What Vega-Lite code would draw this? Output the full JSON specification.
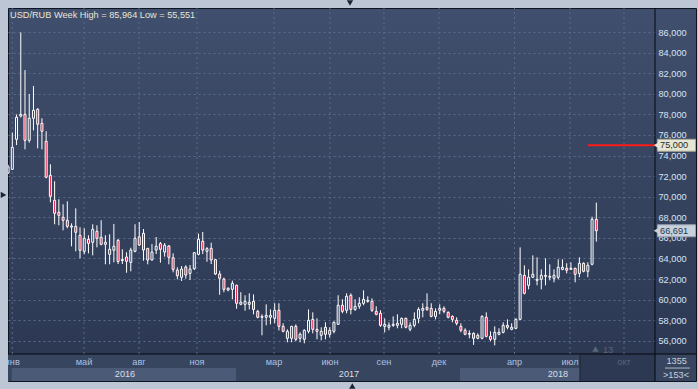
{
"$schema": "https://vega.github.io/schema/vega-lite/v6.json",
"width": 688, "height": 373,
"autosize": {"type": "none"},
"padding": {"left": 8, "top": 8, "right": 2, "bottom": 8},
"background": "#bcc6d5",
"config": {"view": {"fill": {"gradient": "linear", "x1": 0, "y1": 0, "x2": 0, "y2": 1, "stops": [{"offset": 0, "color": "#404f6d"}, {"offset": 1, "color": "#2b3751"}]}, "stroke": "#0e1522", "strokeWidth": 1}, "font": "Liberation Sans"},
"resolve": {"axis": {"x": "independent", "y": "independent"}},
"datasets": {
"candles": [
{"d":"2015-12-28","o":72.3,"h":73.1,"l":72.2,"c":72.9},
{"d":"2016-01-04","o":72.66,"h":76.22,"l":72.6,"c":74.8},
{"d":"2016-01-11","o":75.58,"h":78.0,"l":75.02,"c":77.72},
{"d":"2016-01-18","o":77.84,"h":85.964,"l":77.7,"c":78.0},
{"d":"2016-01-25","o":78.0,"h":82.3,"l":74.6,"c":75.48},
{"d":"2016-02-01","o":75.48,"h":79.98,"l":75.25,"c":77.62},
{"d":"2016-02-08","o":77.62,"h":80.76,"l":76.45,"c":78.4},
{"d":"2016-02-15","o":78.5,"h":78.6,"l":74.7,"c":77.04},
{"d":"2016-02-22","o":77.13,"h":77.62,"l":74.6,"c":76.36},
{"d":"2016-02-29","o":75.38,"h":76.36,"l":71.79,"c":71.89},
{"d":"2016-03-07","o":72.08,"h":73.15,"l":69.46,"c":70.04},
{"d":"2016-03-14","o":69.65,"h":71.5,"l":67.32,"c":68.39},
{"d":"2016-03-21","o":68.49,"h":69.75,"l":67.22,"c":68.19},
{"d":"2016-03-28","o":68.0,"h":69.26,"l":66.73,"c":67.71},
{"d":"2016-04-04","o":67.71,"h":69.55,"l":66.93,"c":67.12},
{"d":"2016-04-11","o":67.05,"h":67.41,"l":65.18,"c":67.15},
{"d":"2016-04-18","o":67.12,"h":68.87,"l":64.69,"c":66.54},
{"d":"2016-04-25","o":66.25,"h":67.03,"l":64.01,"c":64.79},
{"d":"2016-05-02","o":64.69,"h":66.93,"l":64.4,"c":65.96},
{"d":"2016-05-09","o":65.86,"h":66.25,"l":64.5,"c":65.47},
{"d":"2016-05-16","o":65.57,"h":67.32,"l":64.3,"c":66.83},
{"d":"2016-05-23","o":66.64,"h":67.22,"l":65.08,"c":65.96},
{"d":"2016-05-30","o":66.05,"h":67.71,"l":65.28,"c":65.37},
{"d":"2016-06-06","o":65.37,"h":66.25,"l":63.43,"c":65.57},
{"d":"2016-06-13","o":64.4,"h":66.35,"l":63.43,"c":64.89},
{"d":"2016-06-20","o":64.79,"h":67.35,"l":63.62,"c":65.18},
{"d":"2016-06-27","o":65.76,"h":65.9,"l":63.46,"c":63.7},
{"d":"2016-07-04","o":63.8,"h":64.89,"l":63.46,"c":63.9},
{"d":"2016-07-11","o":64.14,"h":64.6,"l":62.61,"c":63.72},
{"d":"2016-07-18","o":63.62,"h":65.04,"l":62.75,"c":64.82},
{"d":"2016-07-25","o":64.69,"h":67.32,"l":64.6,"c":65.96},
{"d":"2016-08-01","o":66.1,"h":67.54,"l":65.2,"c":65.3},
{"d":"2016-08-08","o":66.44,"h":66.86,"l":63.78,"c":64.82},
{"d":"2016-08-15","o":64.98,"h":65.0,"l":63.43,"c":63.85},
{"d":"2016-08-22","o":63.85,"h":65.4,"l":63.8,"c":64.62},
{"d":"2016-08-29","o":64.82,"h":66.08,"l":64.43,"c":65.18},
{"d":"2016-09-05","o":65.44,"h":65.6,"l":63.59,"c":64.89},
{"d":"2016-09-12","o":64.62,"h":65.5,"l":64.17,"c":65.28},
{"d":"2016-09-19","o":65.21,"h":65.3,"l":63.43,"c":64.11},
{"d":"2016-09-26","o":64.07,"h":64.5,"l":62.65,"c":62.94},
{"d":"2016-10-03","o":62.87,"h":63.14,"l":61.97,"c":62.32},
{"d":"2016-10-10","o":62.17,"h":63.26,"l":61.81,"c":62.97},
{"d":"2016-10-17","o":63.17,"h":63.33,"l":62.03,"c":62.39},
{"d":"2016-10-24","o":62.55,"h":63.36,"l":61.9,"c":62.97},
{"d":"2016-10-31","o":63.0,"h":64.6,"l":62.87,"c":64.56},
{"d":"2016-11-07","o":64.4,"h":66.41,"l":64.3,"c":65.86},
{"d":"2016-11-14","o":65.67,"h":66.57,"l":64.43,"c":64.82},
{"d":"2016-11-21","o":64.69,"h":65.1,"l":63.68,"c":64.95},
{"d":"2016-11-28","o":64.98,"h":65.53,"l":63.46,"c":63.85},
{"d":"2016-12-05","o":63.88,"h":63.95,"l":62.39,"c":62.49},
{"d":"2016-12-12","o":62.49,"h":62.8,"l":60.47,"c":62.07},
{"d":"2016-12-19","o":62.0,"h":62.13,"l":60.71,"c":61.0},
{"d":"2016-12-26","o":60.93,"h":61.2,"l":60.8,"c":61.1},
{"d":"2017-01-02","o":61.0,"h":61.84,"l":60.03,"c":61.58},
{"d":"2017-01-09","o":61.39,"h":61.45,"l":59.11,"c":59.64},
{"d":"2017-01-16","o":59.55,"h":60.72,"l":59.45,"c":59.75},
{"d":"2017-01-23","o":59.54,"h":60.42,"l":58.92,"c":59.83},
{"d":"2017-01-30","o":59.54,"h":60.61,"l":59.05,"c":59.74},
{"d":"2017-02-06","o":59.83,"h":60.51,"l":58.57,"c":59.05},
{"d":"2017-02-13","o":58.86,"h":59.0,"l":58.18,"c":58.28},
{"d":"2017-02-20","o":58.28,"h":58.57,"l":56.53,"c":58.37},
{"d":"2017-02-27","o":58.28,"h":59.54,"l":57.5,"c":58.47},
{"d":"2017-03-06","o":58.28,"h":59.05,"l":57.6,"c":58.47},
{"d":"2017-03-13","o":58.18,"h":59.64,"l":57.7,"c":58.96},
{"d":"2017-03-20","o":58.96,"h":59.64,"l":57.0,"c":57.4},
{"d":"2017-03-27","o":57.4,"h":57.7,"l":56.82,"c":56.92},
{"d":"2017-04-03","o":56.24,"h":57.11,"l":55.85,"c":56.92},
{"d":"2017-04-10","o":56.24,"h":57.45,"l":55.85,"c":57.4},
{"d":"2017-04-17","o":57.4,"h":57.6,"l":55.95,"c":56.14},
{"d":"2017-04-24","o":56.24,"h":56.82,"l":55.85,"c":56.63},
{"d":"2017-05-01","o":56.14,"h":57.11,"l":55.75,"c":57.02},
{"d":"2017-05-08","o":56.92,"h":59.05,"l":56.72,"c":57.99},
{"d":"2017-05-15","o":58.08,"h":58.76,"l":56.72,"c":57.11},
{"d":"2017-05-22","o":57.11,"h":58.18,"l":56.14,"c":56.92},
{"d":"2017-05-29","o":56.53,"h":57.31,"l":56.04,"c":56.92},
{"d":"2017-06-05","o":57.31,"h":57.79,"l":56.14,"c":56.63},
{"d":"2017-06-12","o":56.63,"h":57.31,"l":56.33,"c":57.02},
{"d":"2017-06-19","o":56.92,"h":57.89,"l":56.72,"c":57.79},
{"d":"2017-06-26","o":57.6,"h":60.42,"l":57.55,"c":59.45},
{"d":"2017-07-03","o":59.45,"h":60.03,"l":58.67,"c":58.86},
{"d":"2017-07-10","o":58.96,"h":60.61,"l":58.67,"c":60.32},
{"d":"2017-07-17","o":60.42,"h":60.61,"l":58.57,"c":59.05},
{"d":"2017-07-24","o":59.05,"h":60.03,"l":58.9,"c":59.35},
{"d":"2017-07-31","o":59.35,"h":60.22,"l":59.1,"c":59.64},
{"d":"2017-08-07","o":59.64,"h":60.9,"l":59.45,"c":60.03},
{"d":"2017-08-14","o":59.83,"h":60.32,"l":59.7,"c":59.93},
{"d":"2017-08-21","o":59.83,"h":60.12,"l":58.8,"c":58.96},
{"d":"2017-08-28","o":58.86,"h":59.35,"l":58.47,"c":58.57},
{"d":"2017-09-04","o":58.67,"h":58.96,"l":57.35,"c":57.5},
{"d":"2017-09-11","o":57.4,"h":58.18,"l":56.82,"c":57.6},
{"d":"2017-09-18","o":57.31,"h":57.79,"l":57.02,"c":57.5},
{"d":"2017-09-25","o":57.5,"h":58.37,"l":57.35,"c":57.6},
{"d":"2017-10-02","o":57.5,"h":58.57,"l":57.21,"c":57.7},
{"d":"2017-10-09","o":57.6,"h":58.25,"l":57.21,"c":58.18},
{"d":"2017-10-16","o":58.18,"h":58.25,"l":57.21,"c":57.31},
{"d":"2017-10-23","o":57.11,"h":57.79,"l":56.92,"c":57.5},
{"d":"2017-10-30","o":57.5,"h":58.76,"l":57.31,"c":58.08},
{"d":"2017-11-06","o":58.18,"h":59.25,"l":57.7,"c":59.05},
{"d":"2017-11-13","o":58.96,"h":59.64,"l":58.28,"c":59.15},
{"d":"2017-11-20","o":59.25,"h":60.61,"l":58.9,"c":59.05},
{"d":"2017-11-27","o":59.15,"h":59.64,"l":58.28,"c":58.37},
{"d":"2017-12-04","o":58.37,"h":59.15,"l":58.08,"c":58.86},
{"d":"2017-12-11","o":58.96,"h":59.54,"l":58.57,"c":59.15},
{"d":"2017-12-18","o":59.15,"h":59.35,"l":58.67,"c":58.86},
{"d":"2017-12-25","o":58.76,"h":58.86,"l":58.18,"c":58.28},
{"d":"2018-01-01","o":58.37,"h":58.47,"l":57.79,"c":58.08},
{"d":"2018-01-08","o":57.99,"h":58.28,"l":57.5,"c":57.7},
{"d":"2018-01-15","o":57.4,"h":57.7,"l":56.82,"c":57.02},
{"d":"2018-01-22","o":57.02,"h":57.21,"l":56.53,"c":56.63},
{"d":"2018-01-29","o":56.63,"h":57.02,"l":56.24,"c":56.72},
{"d":"2018-02-05","o":56.72,"h":56.82,"l":55.6,"c":56.24},
{"d":"2018-02-12","o":56.24,"h":56.72,"l":56.14,"c":56.53},
{"d":"2018-02-19","o":56.24,"h":58.47,"l":56.14,"c":58.37},
{"d":"2018-02-26","o":58.28,"h":58.76,"l":56.33,"c":56.43},
{"d":"2018-03-05","o":56.43,"h":56.92,"l":55.95,"c":56.14},
{"d":"2018-03-12","o":56.14,"h":57.4,"l":55.551,"c":56.82},
{"d":"2018-03-19","o":56.63,"h":57.21,"l":56.53,"c":56.82},
{"d":"2018-03-26","o":56.82,"h":57.79,"l":56.72,"c":57.5},
{"d":"2018-04-02","o":57.5,"h":58.08,"l":57.11,"c":57.31},
{"d":"2018-04-09","o":57.11,"h":57.7,"l":57.02,"c":57.31},
{"d":"2018-04-16","o":57.21,"h":58.18,"l":57.11,"c":58.08},
{"d":"2018-04-23","o":58.08,"h":65.08,"l":58.0,"c":62.46},
{"d":"2018-04-30","o":62.36,"h":63.33,"l":60.5,"c":60.61},
{"d":"2018-05-07","o":61.39,"h":62.94,"l":61.0,"c":62.17},
{"d":"2018-05-14","o":62.17,"h":64.3,"l":62.1,"c":62.46},
{"d":"2018-05-21","o":61.87,"h":64.11,"l":61.39,"c":61.97},
{"d":"2018-05-28","o":61.97,"h":62.94,"l":61.0,"c":62.36},
{"d":"2018-06-04","o":62.26,"h":64.01,"l":61.39,"c":62.36},
{"d":"2018-06-11","o":62.17,"h":63.43,"l":61.87,"c":62.26},
{"d":"2018-06-18","o":62.07,"h":62.94,"l":61.68,"c":62.36},
{"d":"2018-06-25","o":62.17,"h":63.92,"l":61.97,"c":63.14},
{"d":"2018-07-02","o":62.94,"h":63.92,"l":62.85,"c":63.14},
{"d":"2018-07-09","o":63.04,"h":63.53,"l":62.55,"c":62.85},
{"d":"2018-07-16","o":62.94,"h":63.62,"l":62.9,"c":63.04},
{"d":"2018-07-23","o":63.04,"h":63.1,"l":61.68,"c":62.46},
{"d":"2018-07-30","o":62.55,"h":64.11,"l":62.17,"c":63.53},
{"d":"2018-08-06","o":63.53,"h":63.62,"l":62.65,"c":62.75},
{"d":"2018-08-13","o":62.75,"h":63.62,"l":62.17,"c":63.33},
{"d":"2018-08-20","o":63.43,"h":68.06,"l":63.33,"c":67.8},
{"d":"2018-08-27","o":67.8,"h":69.42,"l":65.63,"c":66.691}
],
"months": [
{"d":"2016-01-04T00:00:00Z","m":"янв"},
{"d":"2016-05-01T14:00:00Z","m":"май"},
{"d":"2016-07-31T14:00:00Z","m":"авг"},
{"d":"2016-11-04T12:00:00Z","m":"ноя"},
{"d":"2017-03-11T22:00:00Z","m":"мар"},
{"d":"2017-06-12T12:00:00Z","m":"июн"},
{"d":"2017-09-09T19:00:00Z","m":"сен"},
{"d":"2017-12-09T19:00:00Z","m":"дек"},
{"d":"2018-04-13T17:00:00Z","m":"апр"},
{"d":"2018-07-14T12:00:00Z","m":"июл"},
{"d":"2018-10-11T19:00:00Z","m":"окт"}
],
"years": [
{"d":"2016-07-08T10:00:00Z","y":"2016"},
{"d":"2017-07-13T22:00:00Z","y":"2017"},
{"d":"2018-06-24T14:00:00Z","y":"2018"}
],
"panels": [
{"a":"2015-12-27T21:12:00Z","b":"2019-02-07T22:00:00Z","lo":52.09,"hi":54.713,"k":"row"},
{"a":"2016-01-03T00:00:00Z","b":"2017-01-08T00:00:00Z","lo":52.09,"hi":53.35,"k":"band"},
{"a":"2018-01-13T12:00:00Z","b":"2018-12-02T02:10:00Z","lo":52.09,"hi":53.35,"k":"band"},
{"a":"2018-07-31T00:00:00Z","b":"2018-12-02T02:10:00Z","lo":52.09,"hi":54.713,"k":"future"}
],
"lines": [
{"a":"2015-12-27T21:12:00Z","b":"2019-02-07T22:00:00Z","lo":54.713,"hi":54.713,"k":"edge"},
{"a":"2018-12-02T02:10:00Z","b":"2018-12-02T02:10:00Z","lo":52.09,"hi":88.338,"k":"edge"},
{"a":"2018-07-31T00:00:00Z","b":"2018-07-31T00:00:00Z","lo":52.09,"hi":54.713,"k":"divider"},
{"a":"2018-12-18T14:00:00Z","b":"2019-01-29T00:00:00Z","lo":53.35,"hi":53.35,"k":"underline"},
{"a":"2018-08-13T07:00:00Z","b":"2018-12-02T02:10:00Z","lo":75,"hi":75,"k":"level"}
],
"tagboxes": [
{"a":"2018-12-06T05:00:00Z","b":"2019-02-07T02:00:00Z","lo":74.42,"hi":75.58,"k":"level"},
{"a":"2018-12-06T05:00:00Z","b":"2019-02-07T02:00:00Z","lo":66.11,"hi":67.27,"k":"last"}
],
"tags": [
{"a":"2018-12-10T10:00:00Z","v":75.0,"t":"75,000","k":"level"},
{"a":"2018-12-10T10:00:00Z","v":66.691,"t":"66,691","k":"last"}
],
"notes": [
{"a":"2015-12-31T05:00:00Z","v":87.61,"t":"USD/RUB Week High = 85,964 Low = 55,551","k":"title"},
{"a":"2018-09-07T02:00:00Z","v":55.15,"t":"13","k":"count"},
{"a":"2018-12-21T02:00:00Z","v":53.99,"t":"1355","k":"info"},
{"a":"2018-12-15T07:00:00Z","v":52.72,"t":">153<","k":"info"}
],
"arrows": [
{"a":"2018-12-04T14:00:00Z","v":75.0,"s":"triangle-left","k":"level"},
{"a":"2018-12-04T14:00:00Z","v":66.691,"s":"triangle-left","k":"last"},
{"a":"2018-08-25T17:00:00Z","v":55.2,"s":"triangle-up","k":"count"},
{"a":"2017-07-15T14:00:00Z","v":88.82,"s":"triangle-down","k":"frame"},
{"a":"2017-07-19T10:00:00Z","v":51.6,"s":"triangle-up","k":"frame"},
{"a":"2015-12-20T11:00:00Z","v":70.17,"s":"triangle-right","k":"frame"}
]
},
"layer": [
{"data":{"name":"panels","format":{"parse":{"a":"date","b":"date"}}},
 "mark":{"type":"rect"},
 "encoding":{
  "x":{"field":"a","type":"temporal","axis":null,
       "scale":{"type":"utc","nice":false,"padding":0,"range":[0,647],"domain":[1451250777600,1543716600000]}},
  "x2":{"field":"b"},
  "y":{"field":"lo","type":"quantitative","axis":null,"scale":{"zero":false,"nice":false,"padding":0,"domain":[52.09,88.338]}},
  "y2":{"field":"hi"},
  "fill":{"field":"k","type":"nominal","legend":null,"scale":{"domain":["row","band","future"],"range":["#38455e","#4b5a76","#2d3952"]}}}},
{"data":{"name":"lines","format":{"parse":{"a":"date","b":"date"}}},
 "mark":{"type":"rule"},
 "encoding":{
  "x":{"field":"a","type":"temporal","axis":null},
  "x2":{"field":"b"},
  "y":{"field":"lo","type":"quantitative","axis":null},
  "y2":{"field":"hi"},
  "stroke":{"field":"k","type":"nominal","legend":null,"scale":{"domain":["edge","divider","underline","level"],"range":["#05080d","#1d2536","#aeb8c6","#ff1a1a"]}},
  "strokeWidth":{"condition":{"test":"datum.k === 'level'","value":2},"value":1}}},
{"data":{"name":"months"},
 "mark":{"type":"rule","color":"#5a6a89","strokeWidth":1,"strokeDash":[2,3]},
 "encoding":{
  "x":{"field":"d","type":"temporal","axis":null},
  "y":{"datum":54.713,"type":"quantitative","axis":null},"y2":{"datum":88.338}}},
{"data":{"name":"candles"},
 "mark":{"type":"rule","color":"#ffffff","strokeWidth":1,"clip":true},
 "encoding":{
  "x":{"field":"d","type":"temporal","axis":null},
  "y":{"field":"l","type":"quantitative","title":null,
       "axis":{"orient":"right","offset":-41,"values":[56,58,60,62,64,66,68,70,72,74,76,78,80,82,84,86],
               "labelExpr":"replace(format(datum.value, '.3f'), '.', ',')","ticks":false,"labelPadding":3,
               "labelFont":"Liberation Sans","labelFontSize":9.2,"labelColor":"#d8e4f6","labelOverlap":false,"labelFlush":false,
               "domain":false,"grid":false,"title":null}},
  "y2":{"field":"h"}}},
{"data":{"name":"candles"},
 "mark":{"type":"bar","width":2,"stroke":"#ffffff","strokeWidth":1,"clip":true},
 "encoding":{
  "x":{"field":"d","type":"temporal","axis":null},
  "y":{"field":"o","type":"quantitative","title":null,
       "axis":{"orient":"left","values":[56,58,60,62,64,66,68,70,72,74,76,78,80,82,84,86],
               "labels":false,"ticks":false,"domain":false,
               "grid":true,"gridColor":"#5a6a89","gridDash":[2,3],"gridWidth":1,"title":null}},
  "y2":{"field":"c"},
  "fill":{"condition":{"test":"datum.c < datum.o","value":"#e0183f"},"value":"#34425f"}}},
{"data":{"name":"tagboxes","format":{"parse":{"a":"date","b":"date"}}},
 "mark":{"type":"rect","strokeWidth":1},
 "encoding":{
  "x":{"field":"a","type":"temporal","axis":null},
  "x2":{"field":"b"},
  "y":{"field":"lo","type":"quantitative","axis":null},
  "y2":{"field":"hi"},
  "fill":{"condition":{"test":"datum.k === 'level'","value":"#e6e6d4"},"value":"#c8d0db"},
  "stroke":{"condition":{"test":"datum.k === 'level'","value":"#a9a996"},"value":"#98a3b3"}}},
{"data":{"name":"arrows","format":{"parse":{"a":"date"}}},
 "mark":{"type":"point","filled":true,"size":40,"opacity":1},
 "encoding":{
  "x":{"field":"a","type":"temporal","axis":null},
  "y":{"field":"v","type":"quantitative","axis":null},
  "shape":{"field":"s","type":"nominal","scale":null,"legend":null},
  "color":{"field":"k","type":"nominal","legend":null,"scale":{"domain":["level","last","count","frame"],"range":["#e6e6d4","#c8d0db","#5c6679","#1b2333"]}}}},
{"data":{"name":"tags","format":{"parse":{"a":"date"}}},
 "mark":{"type":"text","align":"left","baseline":"middle","font":"Liberation Sans","fontSize":9.2},
 "encoding":{
  "x":{"field":"a","type":"temporal","axis":null},
  "y":{"field":"v","type":"quantitative","axis":null},
  "text":{"field":"t"},
  "color":{"condition":{"test":"datum.k === 'level'","value":"#2a2a26"},"value":"#26374f"}}},
{"data":{"name":"notes","format":{"parse":{"a":"date"}}},
 "mark":{"type":"text","align":"left","baseline":"middle","font":"Liberation Sans","fontSize":9.2},
 "encoding":{
  "x":{"field":"a","type":"temporal","axis":null},
  "y":{"field":"v","type":"quantitative","axis":null},
  "text":{"field":"t"},
  "color":{"field":"k","type":"nominal","legend":null,"scale":{"domain":["title","count","info"],"range":["#e4e9f2","#d2deef","#dfe6f0"]}}}},
{"data":{"name":"months"},
 "mark":{"type":"text","align":"center","baseline":"middle","font":"Liberation Sans","fontSize":9.2,"clip":true},
 "encoding":{
  "x":{"field":"d","type":"temporal","axis":null},
  "y":{"datum":53.94,"type":"quantitative","axis":null},
  "text":{"field":"m"},
  "color":{"condition":{"test":"datum.m === 'окт'","value":"#56657f"},"value":"#aac2e4"}}},
{"data":{"name":"years"},
 "mark":{"type":"text","align":"center","baseline":"middle","font":"Liberation Sans","fontSize":9.2,"color":"#d8dfea"},
 "encoding":{
  "x":{"field":"d","type":"temporal","axis":null},
  "y":{"datum":52.77,"type":"quantitative","axis":null},
  "text":{"field":"y"}}}
]
}
